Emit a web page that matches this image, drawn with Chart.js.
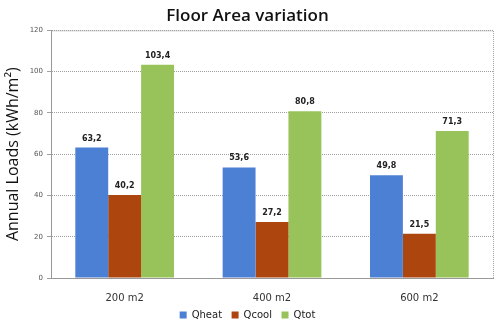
<!DOCTYPE html>
<html>
<head>
<meta charset="utf-8">
<script src="https://cdn.jsdelivr.net/npm/chart.js@4"></script>
<style>
  body { margin: 0; background: #fff; }
  #wrap { width: 503px; height: 330px; }
</style>
</head>
<body>
<div id="wrap"><canvas id="chart"></canvas></div>
<script>
const categories = ["200 m2", "400 m2", "600 m2"];
const qheat = [63.2, 53.6, 49.8];
const qcool = [40.2, 27.2, 21.5];
const qtot = [103.4, 80.8, 71.3];
const yTicks = [0, 20, 40, 60, 80, 100, 120];

// value labels above bars, comma as decimal mark
const barLabels = {
  id: "barLabels",
  afterDatasetsDraw(chart) {
    const ctx = chart.ctx;
    ctx.save();
    ctx.font = "bold 8px 'DejaVu Sans'";
    ctx.fillStyle = "#222";
    ctx.textAlign = "center";
    ctx.textBaseline = "bottom";
    chart.data.datasets.forEach((ds, i) => {
      chart.getDatasetMeta(i).data.forEach((bar, j) => {
        ctx.fillText(ds.data[j].toFixed(1).replace(".", ","), bar.x, bar.y - 5);
      });
    });
    ctx.restore();
  }
};

// dotted frame round the plot area
const frame = {
  id: "frame",
  beforeDatasetsDraw(chart) {
    const a = chart.chartArea, ctx = chart.ctx;
    ctx.save();
    ctx.strokeStyle = "#a0a0a0";
    ctx.setLineDash([1, 1]);
    ctx.lineWidth = 1;
    ctx.strokeRect(a.left + 0.5, a.top + 0.5, a.right - a.left, a.bottom - a.top);
    ctx.restore();
  }
};

new Chart(document.getElementById("chart"), {
  type: "bar",
  data: {
    labels: categories,
    datasets: [
      { label: "Qheat", data: qheat, backgroundColor: "#4c80d4" },
      { label: "Qcool", data: qcool, backgroundColor: "#ad450f" },
      { label: "Qtot", data: qtot, backgroundColor: "#98c35b" }
    ]
  },
  options: {
    responsive: true,
    maintainAspectRatio: false,
    animation: false,
    layout: { padding: { left: 2, right: 10, top: 0, bottom: 0 } },
    datasets: { bar: { categoryPercentage: 0.67, barPercentage: 1 } },
    plugins: {
      title: {
        display: true,
        text: "Floor Area variation",
        font: { family: "'Open Sans'", size: 17, weight: "600" },
        color: "#111",
        padding: { top: 6, bottom: 4 }
      },
      legend: {
        position: "bottom",
        labels: {
          boxWidth: 7, boxHeight: 7, padding: 0,
          font: { family: "'DejaVu Sans'", size: 10 },
          color: "#222",
          generateLabels(chart) {
            const items = Chart.defaults.plugins.legend.labels.generateLabels(chart);
            items.forEach((it, i) => { if (i < items.length - 1) it.text += "   "; });
            return items;
          }
        }
      },
      tooltip: { enabled: false }
    },
    scales: {
      x: {
        grid: { display: false },
        border: { color: "#909090", dash: [1, 1] },
        ticks: { font: { family: "'DejaVu Sans'", size: 10 }, color: "#333", padding: 6 }
      },
      y: {
        min: 0, max: 120,
        afterBuildTicks(scale) { scale.ticks = yTicks.map(v => ({ value: v })); },
        afterFit(scale) { scale.width = 49; },
        grid: { color: "#a0a0a0", tickLength: 4, tickColor: "#a0a0a0" },
        border: { color: "#909090", dash: [1, 1] },
        ticks: { font: { family: "'DejaVu Sans'", size: 7 }, color: "#555", padding: 4 },
        title: {
          display: true,
          text: "Annual Loads (kWh/m²)",
          font: { family: "'Open Sans'", size: 16 },
          color: "#111",
          padding: 2
        }
      }
    }
  },
  plugins: [barLabels, frame]
});
</script>
</body>
</html>
